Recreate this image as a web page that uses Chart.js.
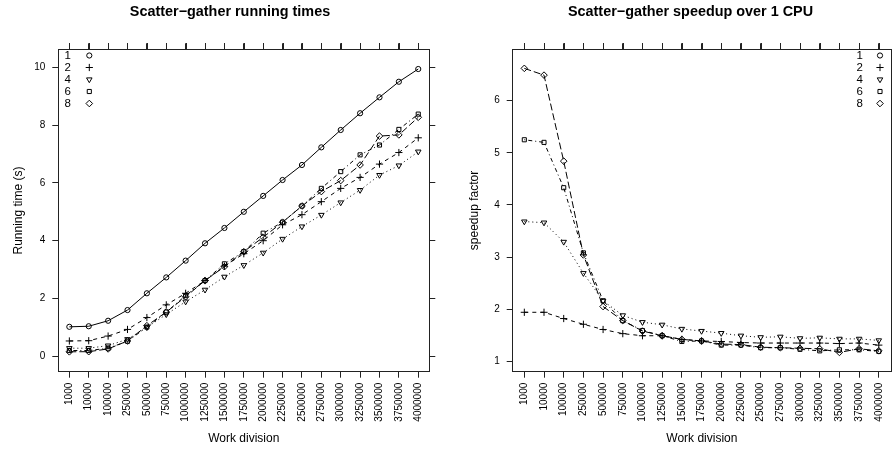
<!DOCTYPE html>
<html>
<head>
<meta charset="utf-8">
<script src="https://cdn.jsdelivr.net/npm/chart.js@4.4.1/dist/chart.umd.min.js"></script>
<style>
  html, body { margin: 0; padding: 0; background: #fff; overflow: hidden; width: 892px; height: 450px; }
  canvas { position: absolute; top: 0; }
  #timesChart { left: 0; }
  #speedupChart { left: 446px; }
</style>
</head>
<body>
<canvas id="timesChart" width="460" height="450"></canvas>
<canvas id="speedupChart" width="489" height="450"></canvas>
<script>
// categories on the x axis
var workDivision = ['1000', '10000', '100000', '250000', '500000', '750000', '1000000',
    '1250000', '1500000', '1750000', '2000000', '2250000', '2500000', '2750000',
    '3000000', '3250000', '3500000', '3750000', '4000000'];
var cpuCounts = ['1', '2', '4', '6', '8'];

// running times (s)
var time1 = [1.02, 1.04, 1.23, 1.60, 2.18, 2.73, 3.31, 3.91, 4.44, 5.00, 5.55, 6.10, 6.62, 7.23, 7.83, 8.41, 8.96, 9.50, 9.94];
var time2 = [0.53, 0.54, 0.70, 0.93, 1.34, 1.78, 2.18, 2.62, 3.12, 3.55, 4.00, 4.55, 4.90, 5.35, 5.81, 6.19, 6.65, 7.05, 7.56];
var time4 = [0.28, 0.28, 0.37, 0.59, 1.00, 1.45, 1.89, 2.30, 2.75, 3.15, 3.58, 4.06, 4.49, 4.89, 5.32, 5.75, 6.27, 6.60, 7.08];
var time6 = [0.20, 0.20, 0.28, 0.52, 1.01, 1.53, 2.10, 2.62, 3.20, 3.62, 4.26, 4.64, 5.20, 5.81, 6.39, 6.97, 7.31, 7.85, 8.38];
var time8 = [0.155, 0.16, 0.255, 0.53, 1.06, 1.53, 2.06, 2.62, 3.10, 3.62, 4.12, 4.64, 5.20, 5.70, 6.08, 6.62, 7.62, 7.66, 8.27];

// speedup over 1 CPU
var speedup2 = [1.94, 1.94, 1.82, 1.71, 1.61, 1.53, 1.49, 1.49, 1.42, 1.39, 1.38, 1.36, 1.35, 1.35, 1.35, 1.35, 1.34, 1.35, 1.31];
var speedup4 = [3.68, 3.66, 3.29, 2.69, 2.16, 1.88, 1.75, 1.70, 1.62, 1.58, 1.54, 1.49, 1.46, 1.47, 1.44, 1.45, 1.43, 1.43, 1.40];
var speedup6 = [5.25, 5.20, 4.33, 3.08, 2.16, 1.78, 1.59, 1.49, 1.38, 1.39, 1.31, 1.31, 1.26, 1.26, 1.23, 1.20, 1.22, 1.22, 1.19];
var speedup8 = [6.62, 6.49, 4.84, 3.04, 2.05, 1.78, 1.58, 1.49, 1.42, 1.39, 1.33, 1.32, 1.27, 1.26, 1.25, 1.24, 1.17, 1.24, 1.20];

var timeTicks = [0, 2, 4, 6, 8, 10];
var speedupTicks = [1, 2, 3, 4, 5, 6];

var fontFamily = '"Liberation Sans", Arial, Helvetica, sans-serif';
var axisColor = '#222';
Chart.defaults.color = '#000';
Chart.defaults.font.family = fontFamily;

// lattice-ish symbols and line types per cpu count
var seriesLook = {
    '1': { style: 'circle',   radius: 2.6, rotation: 0,   dash: [] },
    '2': { style: 'cross',    radius: 3.6, rotation: 0,   dash: [4, 4] },
    '4': { style: 'triangle', radius: 3.2, rotation: 180, dash: [1, 3] },
    '6': { style: 'rect',     radius: 2.9, rotation: 0,   dash: [1, 3, 4, 3] },
    '8': { style: 'rectRot',  radius: 3.3, rotation: 0,   dash: [7, 3] }
};

function makeSeries(label, values) {
    var look = seriesLook[label];
    return {
        label: label,
        data: values.map(function (v, i) { return { x: i, y: v }; }),
        borderColor: '#000',
        borderWidth: 1,
        borderDash: look.dash,
        backgroundColor: 'rgba(0,0,0,0)',
        pointStyle: look.style,
        pointRadius: look.radius,
        pointHoverRadius: look.radius,
        pointRotation: look.rotation,
        pointBorderColor: '#000',
        pointBackgroundColor: 'rgba(0,0,0,0)',
        pointBorderWidth: 1,
        tension: 0,
        fill: false
    };
}

// key inside the panel (number then symbol) + outward tick marks on the top edge
var panelExtras = {
    id: 'panelExtras',
    afterDraw: function (chart, args, opts) {
        var ctx = chart.ctx;
        var area = chart.chartArea;
        var top = chart.scales.xTop;
        ctx.save();

        // top edge ticks, placed by the top axis itself
        ctx.strokeStyle = axisColor;
        ctx.lineWidth = 1;
        ctx.setLineDash([]);
        top.ticks.forEach(function (t) {
            var x = Math.round(top.getPixelForValue(t.value)) + 0.5;
            ctx.beginPath();
            ctx.moveTo(x, Math.round(area.top) - 6);
            ctx.lineTo(x, Math.round(area.top));
            ctx.stroke();
        });

        ctx.font = '11.5px ' + fontFamily;
        ctx.textAlign = 'center';
        ctx.textBaseline = 'middle';
        cpuCounts.forEach(function (c, i) {
            var y = opts.top + i * 12;
            var look = seriesLook[c];
            ctx.fillStyle = '#000';
            ctx.fillText(c, opts.textX, y);
            ctx.strokeStyle = '#000';
            ctx.fillStyle = 'rgba(0,0,0,0)';
            Chart.helpers.drawPoint(ctx, { pointStyle: look.style, radius: look.radius, rotation: look.rotation, borderWidth: 1 }, opts.symX, y);
        });
        ctx.restore();
    }
};

function catTicks(s) { s.ticks = workDivision.map(function (w, i) { return { value: i }; }); }

function buildScales(o) {
    function grid() { return { drawOnChartArea: false, drawTicks: true, tickLength: 6, color: axisColor, lineWidth: 1 }; }
    return {
        x: {
            type: 'linear', position: 'bottom', min: o.xMin, max: o.xMax,
            afterBuildTicks: catTicks,
            afterFit: function (s) { s.height = o.bottomH; },
            grid: grid(), border: { color: axisColor },
            ticks: { autoSkip: false, minRotation: 90, maxRotation: 90, padding: 5, font: { size: 10 },
                callback: function (v) { return workDivision[v]; } },
            title: { display: true, text: 'Work division', font: { size: 12 }, padding: { top: 0, bottom: 3.7 } }
        },
        xTop: {
            type: 'linear', position: 'top', min: o.xMin, max: o.xMax,
            afterBuildTicks: catTicks,
            afterFit: function (s) { s.height = o.topH; },
            grid: grid(), border: { color: axisColor },
            ticks: { display: false }
        },
        y: {
            type: 'linear', position: 'left', min: o.yMin, max: o.yMax,
            afterBuildTicks: function (s) { s.ticks = o.yTicks.map(function (v) { return { value: v }; }); },
            afterFit: function (s) { s.width = o.leftW; },
            grid: grid(), border: { color: axisColor },
            ticks: { padding: 7, font: { size: 10 }, callback: function (v) { return String(v); } },
            title: { display: true, text: o.yTitle, font: { size: 12 }, padding: { top: o.yTitlePad, bottom: 0 } }
        },
        yRight: {
            type: 'linear', position: 'right', min: o.yMin, max: o.yMax,
            afterBuildTicks: function (s) { s.ticks = o.yTicks.map(function (v) { return { value: v }; }); },
            afterFit: function (s) { s.width = o.rightW; },
            grid: grid(), border: { color: axisColor },
            ticks: { display: false }
        }
    };
}

function buildOptions(o) {
    return {
        responsive: false,
        animation: false,
        layout: { padding: 0 },
        scales: buildScales(o),
        plugins: {
            legend: { display: false },
            tooltip: { enabled: false },
            title: { display: true, text: o.title, font: { size: 14.4, weight: 'bold' }, color: '#000',
                padding: { top: 3.7, bottom: 0 } },
            panelExtras: o.key
        }
    };
}

new Chart(document.getElementById('timesChart'), {
    type: 'line',
    data: { datasets: [makeSeries('1', time1), makeSeries('2', time2), makeSeries('4', time4), makeSeries('6', time6), makeSeries('8', time8)] },
    options: buildOptions({
        title: 'Scatter\u2212gather running times',
        yTitle: 'Running time (s)', yTitlePad: 11.3,
        xMin: -0.57, xMax: 18.57, yMin: -0.533, yMax: 10.623, yTicks: timeTicks,
        topH: 28.3, bottomH: 78.3, leftW: 58.3, rightW: 30.7,
        key: { textX: 67.8, symX: 89.3, top: 55.5 }
    }),
    plugins: [panelExtras]
});

new Chart(document.getElementById('speedupChart'), {
    type: 'line',
    data: { datasets: [makeSeries('2', speedup2), makeSeries('4', speedup4), makeSeries('6', speedup6), makeSeries('8', speedup8)] },
    options: buildOptions({
        title: 'Scatter\u2212gather speedup over 1 CPU',
        yTitle: 'speedup factor', yTitlePad: 21,
        xMin: -0.59, xMax: 18.62, yMin: 0.80, yMax: 6.986, yTicks: speedupTicks,
        topH: 28.3, bottomH: 78.3, leftW: 66.7, rightW: 44,
        key: { textX: 413.7, symX: 434, top: 55.5 }
    }),
    plugins: [panelExtras]
});
</script>
</body>
</html>
